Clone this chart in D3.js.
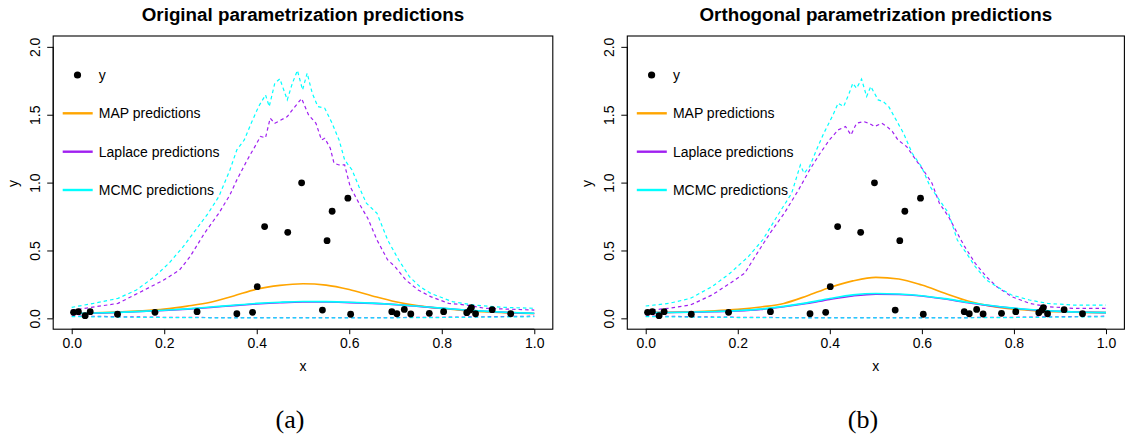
<!DOCTYPE html>
<html>
<head>
<meta charset="utf-8">
<script src="https://cdn.jsdelivr.net/npm/d3@7"></script>
<style>
  html, body { margin: 0; padding: 0; background: #fff; }
  svg { display: block; font-family: "Liberation Sans", Arial, Helvetica, sans-serif; }
</style>
</head>
<body>
<svg id="chart" width="1126" height="441"></svg>
<script>
// Observed data (shared by both panels)
const obsX = [0.004, 0.0145, 0.029, 0.04, 0.099, 0.18, 0.271, 0.357, 0.391, 0.401,
              0.417, 0.467, 0.497, 0.542, 0.552, 0.563, 0.597, 0.603, 0.692, 0.703,
              0.719, 0.733, 0.773, 0.804, 0.854, 0.861, 0.864, 0.873, 0.909, 0.949];
const obsY = [0.044, 0.049, 0.020, 0.049, 0.030, 0.044, 0.049, 0.034, 0.044, 0.233,
              0.676, 0.634, 0.998, 0.061, 0.572, 0.789, 0.885, 0.030, 0.049, 0.034,
              0.066, 0.032, 0.037, 0.049, 0.042, 0.061, 0.079, 0.034, 0.064, 0.034];

// Grid for the smooth prediction curves
const gridX = [0, 0.05, 0.1, 0.15, 0.2, 0.25, 0.3, 0.35, 0.4, 0.45, 0.5,
               0.55, 0.6, 0.65, 0.7, 0.75, 0.8, 0.85, 0.9, 0.95, 1];

// Original parametrization
const origMap     = [0.036, 0.040, 0.046, 0.055, 0.068, 0.090, 0.118, 0.165, 0.215, 0.243, 0.255,
                     0.245, 0.212, 0.165, 0.122, 0.092, 0.072, 0.057, 0.047, 0.040, 0.036];
const origLaplace = [0.035, 0.038, 0.043, 0.050, 0.058, 0.068, 0.080, 0.094, 0.106, 0.115, 0.120,
                     0.120, 0.116, 0.110, 0.101, 0.088, 0.074, 0.061, 0.050, 0.042, 0.036];
const origMcmc    = [0.036, 0.039, 0.044, 0.051, 0.060, 0.070, 0.083, 0.097, 0.110, 0.119, 0.124,
                     0.123, 0.119, 0.112, 0.102, 0.089, 0.075, 0.062, 0.051, 0.043, 0.037];

const origLapUpX = [0, 0.1, 0.198, 0.233, 0.256, 0.287, 0.318, 0.342, 0.357, 0.38, 0.396, 0.408,
                    0.419, 0.429, 0.439, 0.466, 0.477, 0.497, 0.512, 0.528, 0.54, 0.547, 0.559,
                    0.567, 0.578, 0.59, 0.602, 0.621, 0.64, 0.66, 0.683, 0.699, 0.722, 0.749,
                    0.776, 0.815, 0.854, 0.893, 1];
const origLapUpY = [0.06, 0.11, 0.28, 0.356, 0.455, 0.627, 0.774, 0.909, 1.02, 1.17, 1.265, 1.34,
                    1.33, 1.474, 1.437, 1.486, 1.536, 1.62, 1.499, 1.437, 1.314, 1.327, 1.253,
                    1.143, 1.13, 1.13, 0.97, 0.848, 0.737, 0.577, 0.43, 0.381, 0.283, 0.209,
                    0.16, 0.11, 0.098, 0.074, 0.061];
const origMcUpX  = [0, 0.047, 0.1, 0.14, 0.179, 0.21, 0.241, 0.268, 0.295, 0.318, 0.342, 0.357,
                    0.373, 0.388, 0.404, 0.419, 0.427, 0.439, 0.45, 0.466, 0.477, 0.488, 0.499,
                    0.509, 0.52, 0.532, 0.547, 0.563, 0.578, 0.59, 0.606, 0.621, 0.637, 0.66,
                    0.683, 0.707, 0.73, 0.753, 0.776, 0.823, 0.87, 0.932, 1];
const origMcUpY  = [0.081, 0.11, 0.147, 0.209, 0.307, 0.405, 0.528, 0.651, 0.774, 0.897, 1.093, 1.241,
                    1.314, 1.437, 1.56, 1.646, 1.56, 1.732, 1.764, 1.609, 1.732, 1.826, 1.683,
                    1.806, 1.658, 1.56, 1.548, 1.437, 1.314, 1.167, 1.093, 0.97, 0.848, 0.774,
                    0.577, 0.43, 0.307, 0.233, 0.184, 0.123, 0.098, 0.081, 0.074];

// Orthogonal parametrization
const orthMap     = [0.042, 0.044, 0.048, 0.055, 0.066, 0.084, 0.110, 0.165, 0.228, 0.276, 0.302,
                     0.290, 0.245, 0.185, 0.128, 0.090, 0.068, 0.055, 0.048, 0.044, 0.042];
const orthLaplace = [0.042, 0.043, 0.045, 0.049, 0.055, 0.066, 0.085, 0.110, 0.140, 0.165, 0.178,
                     0.176, 0.165, 0.142, 0.115, 0.092, 0.074, 0.060, 0.051, 0.045, 0.042];
const orthMcmc    = [0.042, 0.043, 0.046, 0.050, 0.057, 0.068, 0.088, 0.114, 0.146, 0.173, 0.183,
                     0.179, 0.167, 0.145, 0.118, 0.094, 0.075, 0.061, 0.051, 0.045, 0.042];

const orthLapUpX = [0, 0.05, 0.097, 0.144, 0.183, 0.215, 0.242, 0.27, 0.301, 0.332, 0.356, 0.379,
                    0.399, 0.418, 0.434, 0.446, 0.458, 0.473, 0.485, 0.497, 0.513, 0.524, 0.536,
                    0.548, 0.567, 0.587, 0.603, 0.622, 0.638, 0.658, 0.677, 0.693, 0.716, 0.74,
                    0.763, 0.795, 0.834, 0.873, 0.928, 1];
const orthLapUpY = [0.057, 0.074, 0.098, 0.172, 0.258, 0.332, 0.479, 0.627, 0.774, 0.946, 1.093, 1.216,
                    1.314, 1.388, 1.413, 1.351, 1.437, 1.45, 1.437, 1.413, 1.437, 1.413, 1.376,
                    1.314, 1.265, 1.167, 1.093, 0.995, 0.848, 0.749, 0.627, 0.528, 0.405, 0.307,
                    0.233, 0.16, 0.11, 0.086, 0.074, 0.074];
const orthMcUpX  = [0, 0.05, 0.097, 0.144, 0.183, 0.223, 0.254, 0.285, 0.317, 0.336, 0.344, 0.356,
                    0.371, 0.387, 0.407, 0.418, 0.43, 0.442, 0.45, 0.458, 0.469, 0.48, 0.489,
                    0.505, 0.516, 0.528, 0.544, 0.56, 0.579, 0.599, 0.618, 0.638, 0.658, 0.677,
                    0.697, 0.716, 0.74, 0.763, 0.795, 0.834, 0.873, 0.928, 1];
const orthMcUpY  = [0.091, 0.11, 0.147, 0.233, 0.332, 0.455, 0.577, 0.749, 0.921, 1.13, 1.069, 1.118,
                    1.241, 1.364, 1.499, 1.585, 1.56, 1.658, 1.732, 1.695, 1.762, 1.634, 1.708,
                    1.609, 1.597, 1.56, 1.462, 1.364, 1.216, 1.118, 0.97, 0.872, 0.774, 0.577,
                    0.479, 0.381, 0.283, 0.233, 0.172, 0.135, 0.11, 0.098, 0.098];

// Lower interval bounds (both panels)
const lowX      = [0, 0.1, 0.2, 0.3, 0.4, 0.5, 0.6, 0.7, 0.8, 0.9, 1];
const lowLapY   = [0.018, 0.012, 0.008, 0.006, 0.005, 0.005, 0.005, 0.006, 0.008, 0.012, 0.016];
const lowMcY    = [0.013, 0.009, 0.006, 0.004, 0.003, 0.003, 0.003, 0.004, 0.006, 0.009, 0.012];

const xTicks = [0, 0.2, 0.4, 0.6, 0.8, 1.0];
const yTicks = [0, 0.5, 1.0, 1.5, 2.0];
const legendLabels = ["y", "MAP predictions", "Laplace predictions", "MCMC predictions"];

const COL_MAP = "#FFA500", COL_LAP = "#A020F0", COL_MC = "#00FFFF";

const panels = [
  { left: 53.2, right: 552.8, title: "Original parametrization predictions", caption: "(a)", capX: 290,
    map: origMap, lap: origLaplace, mc: origMcmc,
    lapUpX: origLapUpX, lapUpY: origLapUpY, mcUpX: origMcUpX, mcUpY: origMcUpY },
  { left: 627.3, right: 1124.4, title: "Orthogonal parametrization predictions", caption: "(b)", capX: 863,
    map: orthMap, lap: orthLaplace, mc: orthMcmc,
    lapUpX: orthLapUpX, lapUpY: orthLapUpY, mcUpX: orthMcUpX, mcUpY: orthMcUpY }
];

const TOP = 36, BOTTOM = 329.2;
const svg = d3.select("#chart");

panels.forEach(p => {
  const x = d3.scaleLinear().domain([-0.04, 1.04]).range([p.left, p.right]);
  const y = d3.scaleLinear().domain([-0.08, 2.08]).range([BOTTOM, TOP]);
  const g = svg.append("g");
  const cx = (p.left + p.right) / 2;

  const smooth = d3.line().x(d => x(d[0])).y(d => y(d[1])).curve(d3.curveMonotoneX);
  const jag = d3.line().x(d => x(d[0])).y(d => y(d[1]));
  const zip = (xs, ys) => xs.map((v, i) => [v, ys[i]]);

  // plot frame
  g.append("rect")
    .attr("x", p.left).attr("y", TOP)
    .attr("width", p.right - p.left).attr("height", BOTTOM - TOP)
    .attr("fill", "none").attr("stroke", "#000").attr("stroke-width", 1.1);

  // x axis
  const xAxis = d3.axisBottom(x).tickValues(xTicks).tickFormat(d3.format(".1f"))
    .tickSize(5).tickPadding(4);
  const gx = g.append("g").attr("transform", `translate(0,${BOTTOM})`).call(xAxis);
  gx.select(".domain").attr("d", `M${x(0)},0H${x(1)}`);
  gx.selectAll("text").attr("font-size", 14).attr("fill", "#000")
    .attr("font-family", "Liberation Sans, Arial, sans-serif");
  gx.selectAll("line, path").attr("stroke", "#000");

  // y axis with labels parallel to the axis
  const yAxis = d3.axisLeft(y).tickValues(yTicks).tickFormat(d3.format(".1f"))
    .tickSize(6).tickPadding(4);
  const gy = g.append("g").attr("transform", `translate(${p.left},0)`).call(yAxis);
  gy.select(".domain").attr("d", `M0,${y(0)}V${y(2)}`);
  gy.selectAll("line, path").attr("stroke", "#000");
  gy.selectAll("text")
    .attr("font-size", 14).attr("fill", "#000")
    .attr("font-family", "Liberation Sans, Arial, sans-serif")
    .attr("x", null).attr("dy", null)
    .attr("text-anchor", "middle")
    .attr("transform", "translate(-13,0) rotate(-90)");

  // titles
  g.append("text").attr("x", cx).attr("y", 21)
    .attr("text-anchor", "middle").attr("font-size", 18.8).attr("font-weight", "bold")
    .text(p.title);
  g.append("text").attr("x", cx).attr("y", 371)
    .attr("text-anchor", "middle").attr("font-size", 14).text("x");
  g.append("text")
    .attr("transform", `translate(${p.left - 35},${(TOP + BOTTOM) / 2 + 1}) rotate(-90)`)
    .attr("text-anchor", "middle").attr("font-size", 14).text("y");

  // interval bounds (dashed)
  const dashed = (data, col) => g.append("path").attr("d", jag(data))
    .attr("fill", "none").attr("stroke", col).attr("stroke-width", 1.2)
    .attr("stroke-dasharray", "3.5,3");
  dashed(zip(p.lapUpX, p.lapUpY), COL_LAP);
  dashed(zip(p.mcUpX, p.mcUpY), COL_MC);
  dashed(zip(lowX, lowLapY), COL_LAP);
  dashed(zip(lowX, lowMcY), COL_MC);

  // prediction means
  const solid = (vals, col) => g.append("path").attr("d", smooth(zip(gridX, vals)))
    .attr("fill", "none").attr("stroke", col).attr("stroke-width", 1.6);
  solid(p.map, COL_MAP);
  solid(p.lap, COL_LAP);
  solid(p.mc, COL_MC);

  // observations
  g.append("g").selectAll("circle").data(zip(obsX, obsY)).join("circle")
    .attr("cx", d => x(d[0])).attr("cy", d => y(d[1])).attr("r", 3.4).attr("fill", "#000");

  // legend
  const lg = g.append("g").attr("font-size", 14);
  const rowY = [75, 113.3, 151.7, 190];
  const lineCols = [null, COL_MAP, COL_LAP, COL_MC];
  legendLabels.forEach((lab, i) => {
    if (i === 0) {
      lg.append("circle").attr("cx", p.left + 24.3).attr("cy", rowY[i]).attr("r", 3.6).attr("fill", "#000");
    } else {
      lg.append("line").attr("x1", p.left + 9.5).attr("x2", p.left + 39.5)
        .attr("y1", rowY[i]).attr("y2", rowY[i])
        .attr("stroke", lineCols[i]).attr("stroke-width", 2.4);
    }
    lg.append("text").attr("x", p.left + 45.6).attr("y", rowY[i]).attr("dy", "0.35em").text(lab);
  });

  // sub-figure caption
  svg.append("text").attr("x", p.capX).attr("y", 428)
    .attr("text-anchor", "middle").attr("font-size", 26)
    .attr("font-family", "Liberation Serif, Times New Roman, serif").text(p.caption);
});
</script>
</body>
</html>
